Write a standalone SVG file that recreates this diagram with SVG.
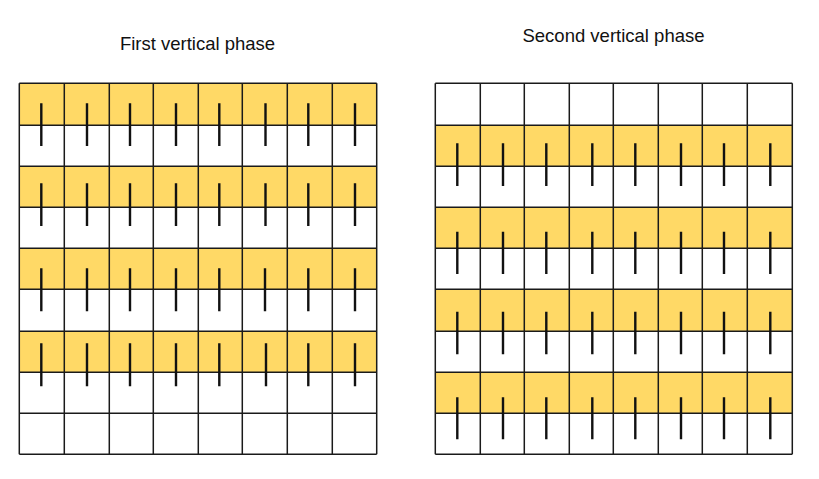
<svg xmlns="http://www.w3.org/2000/svg" width="819" height="479" viewBox="0 0 819 479">
<style>
.title{font-family:"Liberation Sans",Arial,sans-serif;font-size:18.5px;fill:#111;text-anchor:middle}
.band{fill:#FFD966}
.grid{fill:none;stroke:#1a1a1a;stroke-width:1.5}
.mark{stroke:#111;stroke-width:2.4;stroke-linecap:butt}
</style>
<rect width="819" height="479" fill="#fff"/>
<g id="title-first"><text class="title" x="197.5" y="49.5">First vertical phase</text></g>
<g id="title-second"><text class="title" x="613.5" y="41.7">Second vertical phase</text></g>

<g id="grid-first">
<rect class="band" x="19.3" y="83.3" width="357.4" height="42"/>
<rect class="band" x="19.3" y="166.3" width="357.4" height="41"/>
<rect class="band" x="19.3" y="248.3" width="357.4" height="41"/>
<rect class="band" x="19.3" y="331.3" width="357.4" height="41"/>
<path class="grid" d="M19.3 83.3V454.3M64.3 83.3V454.3M109.3 83.3V454.3M153.3 83.3V454.3M198.3 83.3V454.3M242.3 83.3V454.3M287.3 83.3V454.3M332.3 83.3V454.3M376.7 83.3V454.3
M19.3 83.3H376.7M19.3 125.3H376.7M19.3 166.3H376.7M19.3 207.3H376.7M19.3 248.3H376.7M19.3 289.3H376.7M19.3 331.3H376.7M19.3 372.3H376.7M19.3 413.3H376.7M19.3 454.3H376.7"/>
</g>

<g id="grid-second">
<rect class="band" x="435.3" y="125.3" width="357" height="41"/>
<rect class="band" x="435.3" y="207.3" width="357" height="41"/>
<rect class="band" x="435.3" y="289.3" width="357" height="42"/>
<rect class="band" x="435.3" y="372.3" width="357" height="41"/>
<path class="grid" d="M435.3 83.3V454.3M480.3 83.3V454.3M524.3 83.3V454.3M569.3 83.3V454.3M613.3 83.3V454.3M658.3 83.3V454.3M702.3 83.3V454.3M747.3 83.3V454.3M792.3 83.3V454.3
M435.3 83.3H792.3M435.3 125.3H792.3M435.3 166.3H792.3M435.3 207.3H792.3M435.3 248.3H792.3M435.3 289.3H792.3M435.3 331.3H792.3M435.3 372.3H792.3M435.3 413.3H792.3M435.3 454.3H792.3"/>
</g>

<g id="connectors">
<g id="marks-first" class="mark">
<path class="mark" d="M41.3 103.3V146M87 103.3V146M130 103.3V146M176 103.3V146M219.3 103.3V146M265.5 103.3V146M308.3 103.3V146M355 103.3V146"/>
<path class="mark" d="M41.3 183.3V226M87 183.3V226M130 183.3V226M176 183.3V226M219.3 183.3V226M265.5 183.3V226M308.3 183.3V226M355 183.3V226"/>
<path class="mark" d="M41.3 268.3V311.3M87 268.3V311.3M130 268.3V311.3M176 268.3V311.3M219.3 268.3V311.3M265 268.3V311.3M308.3 268.3V311.3M355 268.3V311.3"/>
<path class="mark" d="M41.3 343.3V386.3M87 343.3V386.3M130 343.3V386.3M176 343.3V386.3M219.3 343.3V386.3M266 343.3V386.3M308.3 343.3V386.3M355 343.3V386.3"/>
</g>
<g id="marks-second" class="mark">
<path class="mark" d="M457.3 143.3V186M503 143.3V186M546.3 143.3V186M592.3 143.3V186M635.3 143.3V186M681 143.3V186M724 143.3V186M770.3 143.3V186"/>
<path class="mark" d="M457.3 231.7V274M503 231.7V274M546.3 231.7V274M592.3 231.7V274M635.3 231.7V274M681 231.7V274M724 231.7V274M770.3 231.7V274"/>
<path class="mark" d="M457.3 311.7V354.3M503 311.7V354.3M546.3 311.7V354.3M592.3 311.7V354.3M635.3 311.7V354.3M681 311.7V354.3M724 311.7V354.3M770.3 311.7V354.3"/>
<path class="mark" d="M457.3 397.3V439.3M503 397.3V439.3M546.3 397.3V439.3M592.3 397.3V439.3M635.3 397.3V439.3M681 397.3V439.3M724 397.3V439.3M770.3 397.3V439.3"/>
</g>
</g>
</svg>
